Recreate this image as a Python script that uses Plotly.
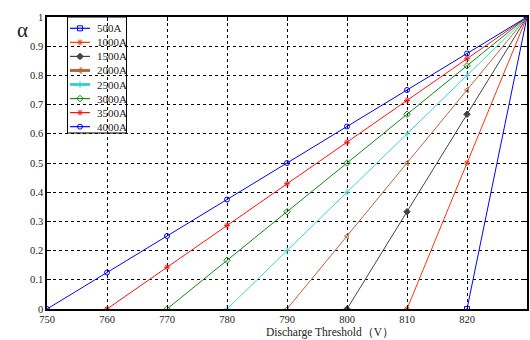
import plotly.graph_objects as go

names = ["500A", "1000A", "1500A", "2000A", "2500A", "3000A", "3500A", "4000A"]
x_vals = [
    [820, 830],
    [810, 820, 830],
    [800, 810, 820, 830],
    [790, 800, 810, 820, 830],
    [780, 790, 800, 810, 820, 830],
    [770, 780, 790, 800, 810, 820, 830],
    [760, 770, 780, 790, 800, 810, 820, 830],
    [750, 760, 770, 780, 790, 800, 810, 820, 830],
]
y_vals = [
    [0, 1],
    [0, 0.5, 1],
    [0, 0.333, 0.667, 1],
    [0, 0.25, 0.5, 0.75, 1],
    [0, 0.2, 0.4, 0.6, 0.8, 1],
    [0, 0.167, 0.333, 0.5, 0.667, 0.833, 1],
    [0, 0.143, 0.286, 0.429, 0.571, 0.714, 0.857, 1],
    [0, 0.125, 0.25, 0.375, 0.5, 0.625, 0.75, 0.875, 1],
]
x_ticks = [750, 760, 770, 780, 790, 800, 810, 820, 830]
y_ticks = [0, 0.1, 0.2, 0.3, 0.4, 0.5, 0.6, 0.7, 0.8, 0.9, 1]
y_tick_text = ["0", "0.1", "0.2", "0.3", "0.4", "0.5", "0.6", "0.7", "0.8", "0.9", "1"]

colors = ["#0000ff", "#ee3a10", "#444444", "#b8653a", "#3fd0d0", "#108a10", "#ff1010", "#0000ff"]
symbols = ["square-open", "asterisk-open", "diamond", "triangle-left-open",
           "cross-thin-open", "diamond-open", "asterisk-open", "circle-open"]
widths = [1, 1, 1, 1, 1, 1, 1, 1]
legend_widths = [1.2, 1.2, 1.2, 3, 3, 1.2, 1.2, 1.2]

W, H = 530, 340
ML, MR, MT, MB = 47, 3, 17, 31
PW, PH = W - ML - MR, H - MT - MB


def px_x(p):
    return (p - ML) / PW


def px_y(p):
    return (H - MB - p) / PH


fig = go.Figure()
for n, xs, ys, c, s, w in zip(names, x_vals, y_vals, colors, symbols, widths):
    fig.add_trace(go.Scatter(
        x=xs, y=ys, name=n, mode="lines+markers", showlegend=False,
        line=dict(color=c, width=w),
        marker=dict(symbol=s, size=5, color=c, line=dict(color=c, width=1)),
    ))

serif = "Liberation Serif, Times New Roman, serif"

# manual legend (compact, like the original)
leg_x0, leg_x1 = px_x(67.5), px_x(126.5)
leg_top, leg_bot = px_y(17), px_y(133)
shapes = [dict(type="rect", xref="paper", yref="paper", x0=leg_x0, x1=leg_x1,
               y0=leg_bot, y1=leg_top, line=dict(color="black", width=1),
               fillcolor="white", layer="between")]
annotations = []
for i, (n, c, s, lw) in enumerate(zip(names, colors, symbols, legend_widths)):
    yy = px_y(28.3 + 14.05 * i)
    shapes.append(dict(type="line", xref="paper", yref="paper",
                       x0=px_x(70), x1=px_x(90), y0=yy, y1=yy,
                       line=dict(color=c, width=lw), layer="above"))
    fig.add_trace(go.Scatter(
        x=[px_x(80)], y=[yy], xaxis="x2", yaxis="y2",
        mode="markers", showlegend=False, hoverinfo="skip",
        marker=dict(symbol=s, size=5, color=c, line=dict(color=c, width=1)),
    ))
    annotations.append(dict(text=n, xref="paper", yref="paper", x=px_x(95), y=yy,
                            xanchor="left", yanchor="middle", showarrow=False,
                            font=dict(family=serif, size=11, color="#222222")))

annotations.append(dict(text="α", xref="paper", yref="paper", x=px_x(22), y=px_y(30),
                        showarrow=False, font=dict(family=serif, size=21, color="#222222"),
                        xanchor="center", yanchor="middle"))
annotations.append(dict(text="Discharge Threshold（V）", xref="paper", yref="paper",
                        x=px_x(330), y=px_y(332), showarrow=False,
                        font=dict(family=serif, size=11.5, color="#222222"),
                        xanchor="center", yanchor="middle"))

fig.update_layout(
    width=W, height=H,
    margin=dict(l=ML, r=MR, t=MT, b=MB),
    paper_bgcolor="white", plot_bgcolor="white",
    font=dict(family=serif, size=10, color="#222222"),
    showlegend=False,
    shapes=shapes,
    annotations=annotations,
    xaxis=dict(range=[750, 830], tickvals=x_ticks, showgrid=True, automargin=False,
               gridcolor="black", griddash="dot", gridwidth=1,
               showline=True, linecolor="black", linewidth=1.5, mirror="ticks",
               ticks="inside", ticklen=4, tickcolor="black", zeroline=False,
               tickfont=dict(family=serif, size=10.5, color="#222222")),
    yaxis=dict(range=[0, 1], tickvals=y_ticks, ticktext=y_tick_text, showgrid=True,
               automargin=False,
               gridcolor="black", griddash="dot", gridwidth=1,
               showline=True, linecolor="black", linewidth=1.5, mirror="ticks",
               ticks="inside", ticklen=4, tickcolor="black", zeroline=False,
               tickfont=dict(family=serif, size=10.5, color="#222222")),
    xaxis2=dict(overlaying="x", range=[0, 1], visible=False, fixedrange=True),
    yaxis2=dict(overlaying="y", range=[0, 1], visible=False, fixedrange=True),
)
fig.write_html("out.html", config={"displayModeBar": False},
               post_script="document.body.style.margin='0';document.body.style.overflow='hidden';")
